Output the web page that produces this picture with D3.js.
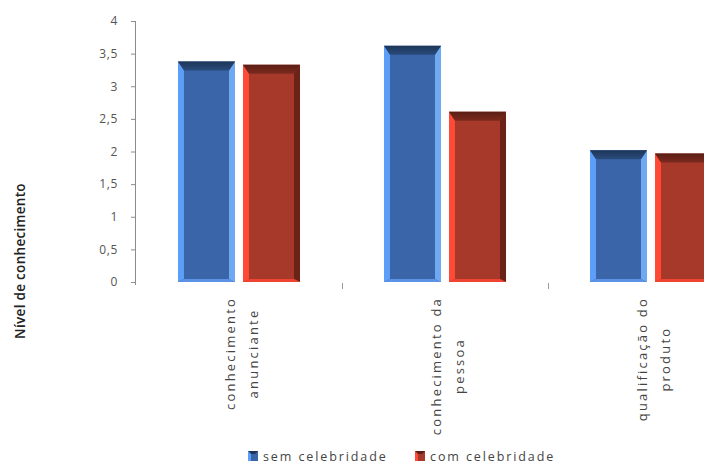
<!DOCTYPE html>
<html>
<head>
<meta charset="utf-8">
<script src="https://cdn.jsdelivr.net/npm/d3@7"></script>
<style>
  html, body { margin: 0; padding: 0; background: #fff; overflow: hidden; }
  svg { display: block; }
  text { font-family: "Open Sans", "DejaVu Sans", sans-serif; }
</style>
</head>
<body>
<svg id="chart" width="704" height="464"></svg>
<script>
// Data
const categories = [
  ["conhecimento", "anunciante"],
  ["conhecimento da", "pessoa"],
  ["qualificação  do", "produto"]
];
const seriesNames = ["sem celebridade", "com celebridade"];
const semCelebridade = [3.38, 3.62, 2.02];
const comCelebridade = [3.33, 2.61, 1.97];
const yTicks = [0, 0.5, 1, 1.5, 2, 2.5, 3, 3.5, 4];
const yTitle = "Nível de conhecimento";

const seriesValues = [semCelebridade, comCelebridade];

// Bevel colours per series: face, top, left, right, bottom
const palettes = [
  { face: "#3a65a9", top: "#1d3657", left: "#5d9ef9", right: "#6ea9f2", bottom: "#5c93e6" },
  { face: "#a6392a", top: "#5a1e14", left: "#ff4a36", right: "#6b2317", bottom: "#ee4431" }
];

const svg = d3.select("#chart");
const plotLeft = 136, plotTop = 21, plotBottom = 282;
const bandW = 206;

const x0 = d3.scaleBand()
  .domain(d3.range(categories.length))
  .range([plotLeft, plotLeft + bandW * categories.length])
  .paddingInner(0).paddingOuter(0);

const x1 = d3.scaleBand()
  .domain(d3.range(seriesNames.length))
  .range([0, x0.bandwidth()])
  .paddingInner(0.123).paddingOuter(0.646);

const y = d3.scaleLinear().domain([0, 4]).range([plotBottom, plotTop]);

// Y axis
const yAxis = d3.axisLeft(y)
  .tickValues(yTicks)
  .tickSize(5)
  .tickPadding(13)
  .tickFormat(d => String(d).replace(".", ","));

const gy = svg.append("g")
  .attr("transform", `translate(${plotLeft},0)`)
  .call(yAxis);
gy.select(".domain").attr("stroke", "#8c8c8c").attr("d", `M-0.5,${plotTop}V${plotBottom + 3}`);
gy.selectAll(".tick line").attr("stroke", "#8c8c8c");
gy.selectAll(".tick text")
  .attr("fill", "#555")
  .style("font-size", "12px")
  .style("letter-spacing", "0.6px");

// Category boundary ticks under the plot
const boundaries = d3.range(1, categories.length + 1).map(i => x0(i - 1) + x0.bandwidth());
svg.append("g").selectAll("line")
  .data(boundaries)
  .join("line")
  .attr("x1", d => Math.round(d) + 0.5).attr("x2", d => Math.round(d) + 0.5)
  .attr("y1", plotBottom + 1).attr("y2", plotBottom + 7)
  .attr("stroke", "#9a9a9a");

// Bars with bevelled edges
const bevelX = 6, bevelTop = 9, bevelBottom = 3;
const bars = [];
categories.forEach((c, ci) => {
  seriesValues.forEach((vals, si) => {
    bars.push({ ci, si, v: vals[ci] });
  });
});

// Top bevel gradients: darker at the edge, fading into the face
const defs = svg.append("defs");
palettes.forEach((p, si) => {
  const gr = defs.append("linearGradient").attr("id", "topGrad" + si)
    .attr("x1", 0).attr("y1", 0).attr("x2", 0).attr("y2", 1);
  gr.append("stop").attr("offset", 0).attr("stop-color", p.top);
  gr.append("stop").attr("offset", 1).attr("stop-color", d3.interpolateRgb(p.top, p.face)(0.45));
});

const barG = svg.append("g");
bars.forEach(b => {
  const xl = x0(b.ci) + x1(b.si);
  const xr = xl + x1.bandwidth();
  const yt = y(b.v);
  const yb = y(0);
  const p = palettes[b.si];
  const g = barG.append("g");
  g.append("rect").attr("x", xl).attr("y", yt).attr("width", xr - xl).attr("height", yb - yt).attr("fill", p.face);
  // left bevel
  g.append("polygon")
    .attr("points", [[xl, yt], [xl + bevelX, yt + bevelTop], [xl + bevelX, yb - bevelBottom], [xl, yb]].join(" "))
    .attr("fill", p.left);
  // right bevel
  g.append("polygon")
    .attr("points", [[xr, yt], [xr - bevelX, yt + bevelTop], [xr - bevelX, yb - bevelBottom], [xr, yb]].join(" "))
    .attr("fill", p.right);
  // top bevel
  g.append("polygon")
    .attr("points", [[xl, yt], [xr, yt], [xr - bevelX, yt + bevelTop], [xl + bevelX, yt + bevelTop]].join(" "))
    .attr("fill", `url(#topGrad${b.si})`);
  // bottom bevel
  g.append("polygon")
    .attr("points", [[xl, yb], [xl + bevelX, yb - bevelBottom], [xr - bevelX, yb - bevelBottom], [xr, yb]].join(" "))
    .attr("fill", p.bottom);
});

// Rotated category labels
const labelTop = 297;
categories.forEach((lines, ci) => {
  const cx = x0(ci) + x0.bandwidth() / 2 + 2;
  const g = svg.append("g");
  const texts = lines.map((t, li) => g.append("text")
    .text(t)
    .attr("fill", "#444")
    .style("font-size", "13px")
    .style("letter-spacing", "2.2px")
    .attr("text-anchor", "middle")
    .attr("dominant-baseline", "central"));
  const maxLen = d3.max(texts, t => t.node().getComputedTextLength());
  const cy = labelTop + maxLen / 2;
  texts.forEach((t, li) => {
    const lx = cx + (li - (lines.length - 1) / 2) * 23;
    t.attr("transform", `translate(${lx},${cy}) rotate(-90)`);
  });
});

// Y axis title
svg.append("text")
  .text(yTitle)
  .attr("transform", "translate(20,261) rotate(-90)")
  .attr("text-anchor", "middle")
  .attr("dominant-baseline", "central")
  .attr("fill", "#222")
  .style("font-size", "13.5px")
  .style("font-weight", "600")
  .style("letter-spacing", "0.3px");

// Legend
const legendX = [248, 415];
const legend = svg.append("g");
seriesNames.forEach((name, si) => {
  const p = palettes[si];
  const lx = legendX[si], ly = 451;
  const lg = legend.append("g");
  lg.append("rect").attr("x", lx).attr("y", ly).attr("width", 10).attr("height", 10).attr("fill", p.face);
  lg.append("polygon").attr("points", [[lx, ly], [lx + 10, ly], [lx + 7, ly + 3], [lx + 3, ly + 3]].join(" ")).attr("fill", p.top);
  lg.append("polygon").attr("points", [[lx, ly], [lx + 3, ly + 3], [lx + 3, ly + 10], [lx, ly + 10]].join(" ")).attr("fill", p.left);
  lg.append("text")
    .text(name)
    .attr("x", lx + 15).attr("y", ly + 5)
    .attr("dominant-baseline", "central")
    .attr("fill", "#444")
    .style("font-size", "12.5px")
    .style("letter-spacing", "1.9px");
});
</script>
</body>
</html>
